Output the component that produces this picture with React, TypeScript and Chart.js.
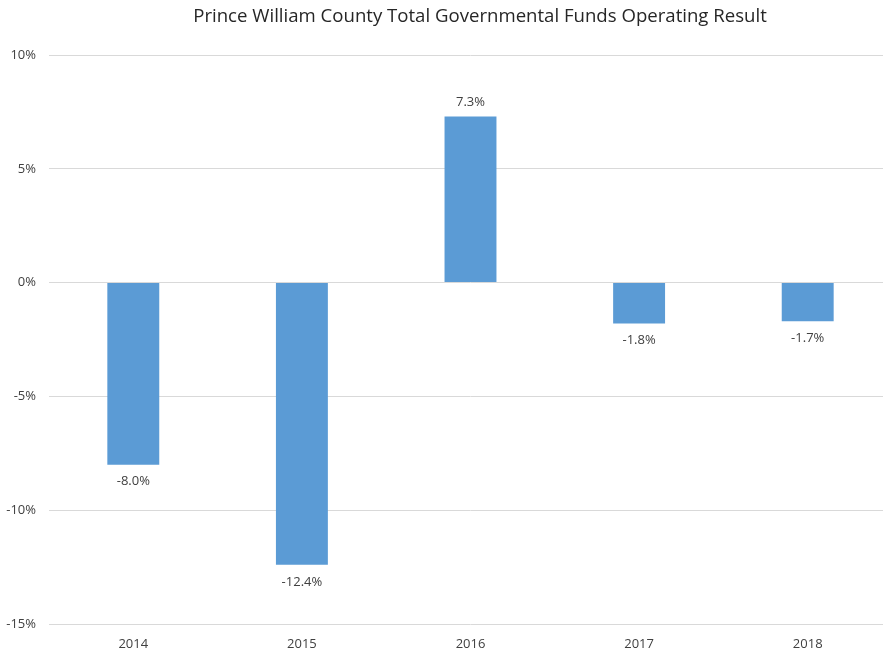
import React, { useEffect, useRef } from "react";
import { Chart, registerables } from "chart.js";

Chart.register(...registerables);

const TITLE = "Prince William County Total Governmental Funds Operating Result";
const categories = ["2014", "2015", "2016", "2017", "2018"];
const values = [-8.0, -12.4, 7.3, -1.8, -1.7];
const yMin = -15;
const yMax = 10;
const yStep = 5;

const FONT = "'Open Sans', 'Noto Sans', sans-serif";
const CW = 893;
const CH = 652;

const labelPlugin = {
  id: "labels",
  afterDatasetsDraw(chart: any) {
    const ctx = chart.ctx;
    const meta = chart.getDatasetMeta(0);
    ctx.save();
    ctx.font = `13px ${FONT}`;
    ctx.fillStyle = "#404040";
    ctx.textAlign = "center";
    ctx.textBaseline = "middle";
    meta.data.forEach((bar: any, i: number) => {
      const v = values[i];
      const txt = v.toFixed(1) + "%";
      if (v >= 0) {
        ctx.fillText(txt, bar.x, bar.y - 14);
      } else {
        ctx.fillText(txt, bar.x, bar.y + 17);
      }
    });
    ctx.font = `18.6px ${FONT}`;
    ctx.fillStyle = "#262626";
    ctx.fillText(TITLE, 480, 17);
    ctx.restore();
  },
};

export default function App() {
  const ref = useRef<HTMLCanvasElement>(null);
  useEffect(() => {
    const chart = new Chart(ref.current!, {
      type: "bar",
      data: {
        labels: categories,
        datasets: [
          {
            data: values,
            backgroundColor: "#5b9bd5",
            borderWidth: 0,
            barPercentage: 0.308,
            categoryPercentage: 1,
          },
        ],
      },
      options: {
        animation: false,
        responsive: false,
        maintainAspectRatio: false,
        layout: { padding: { left: 0, right: 1, top: 55, bottom: 0 } },
        plugins: { legend: { display: false }, title: { display: false }, tooltip: { enabled: false } },
        scales: {
          x: {
            grid: { display: false, drawTicks: false },
            border: { display: false },
            ticks: { color: "#404040", font: { size: 13, family: FONT }, padding: 12, maxRotation: 0 },
            afterFit: (s: any) => { s.height = 28; },
          },
          y: {
            min: yMin,
            max: yMax,
            grid: { color: "#d9d9d9", drawTicks: false },
            border: { display: false },
            ticks: {
              stepSize: yStep,
              color: "#404040",
              font: { size: 13, family: FONT },
              padding: 13,
              callback: (v: any) => v + "%",
            },
            afterFit: (s: any) => { s.width = 49; },
          },
        },
      },
      plugins: [labelPlugin],
    });
    return () => chart.destroy();
  }, []);
  return (
    <div style={{ position: "fixed", left: 0, top: 0, width: 883, height: 652, overflow: "hidden" }}>
      <canvas ref={ref} width={CW} height={CH} style={{ width: CW, height: CH, display: "block" }} />
    </div>
  );
}
